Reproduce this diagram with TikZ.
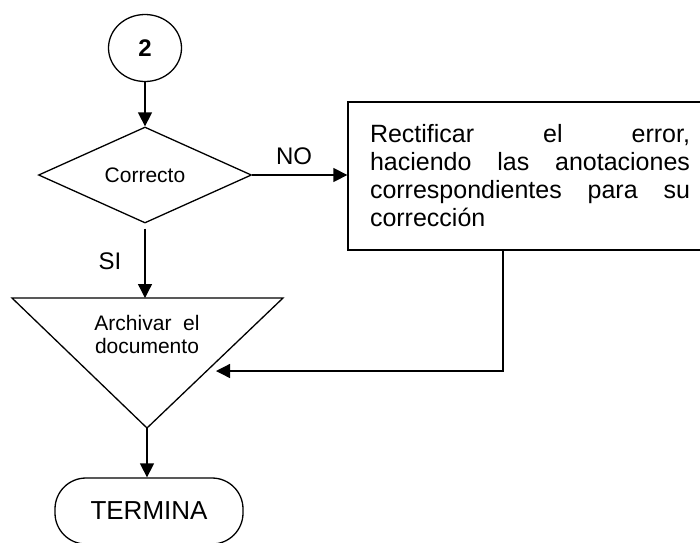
\documentclass[tikz,border=0pt]{standalone}
\usepackage{fontspec}
\setmainfont{Liberation Sans}
\usetikzlibrary{shapes.geometric,arrows.meta}

\begin{document}
\begin{tikzpicture}[x=1pt,y=-1pt,line width=1.3pt,>={Triangle[length=14pt,width=14pt]},
  conector/.style={ellipse,draw,minimum width=73pt,minimum height=67pt,font=\fontsize{24}{26}\selectfont\bfseries},
  decision/.style={diamond,draw,aspect=2.2,minimum width=213pt,minimum height=96pt,inner sep=2pt,font=\fontsize{21}{24}\selectfont},
  proceso/.style={rectangle,draw,minimum width=364pt,minimum height=148pt,text width=320pt,font=\fontsize{25}{28}\selectfont},
  termino/.style={rectangle,draw,rounded corners=31pt,minimum width=188pt,minimum height=66pt,font=\fontsize{26}{28}\selectfont},
  etiqueta/.style={font=\fontsize{24}{26}\selectfont}]

  \useasboundingbox (0,0) rectangle (700,542);

  % Nodes
  \node[conector] (c2) at (145,48) {2};
  \node[decision] (dec) at (145,175) {Correcto};
  \node[proceso] (box) at (530,176) {\noindent Rectificar\hfill el\hfill error,\\
    haciendo\hfill las\hfill anotaciones\\
    correspondientes\hfill para\hfill su\\
    corrección};
  \node[termino] (term) at (149,511) {TERMINA};

  % Archive triangle
  \coordinate (tl) at (12,298);
  \coordinate (tr) at (283,298);
  \coordinate (tp) at (147,428);
  \draw (tl) -- (tr) -- (tp) -- cycle;
  \node[align=center,font=\fontsize{21}{23}\selectfont] (arch) at (147,334) {Archivar~ el\\documento};

  % Labels
  \node[etiqueta] (no) at (294,156) {NO};
  \node[etiqueta] (si) at (110,261) {SI};

  % Connectors
  \coordinate (rx) at (503,0);
  \coordinate (re) at (216,371);
  \draw[->] (c2) -- (dec);
  \draw[->] (dec.east) -- (dec.east -| box.west);
  \draw[->] ([yshift=-5pt]dec.south) -- (dec.south |- tl);
  \draw[->] (box.south -| rx) |- (re);
  \draw[->] (tp) -- (tp |- term.north);
\end{tikzpicture}
\end{document}
